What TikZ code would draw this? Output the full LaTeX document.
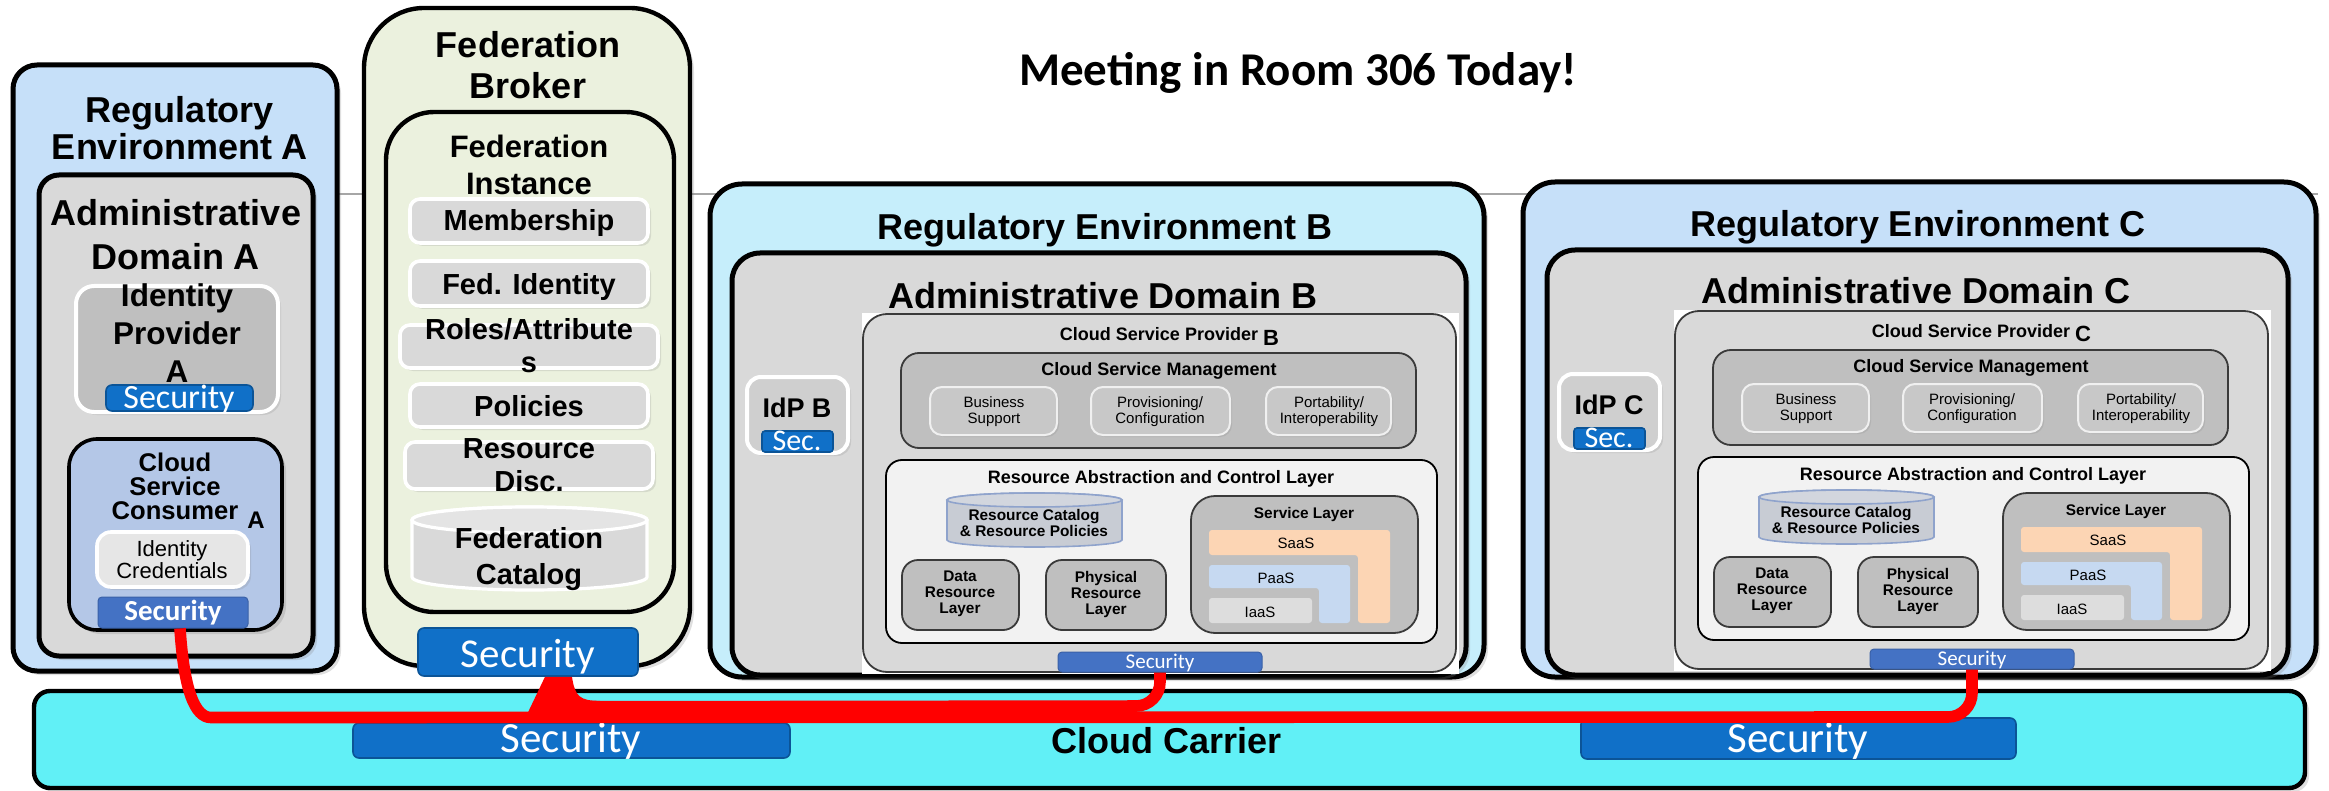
\documentclass[tikz,border=0pt]{standalone}
\usepackage{fontspec}
\setmainfont{Liberation Sans}
\newfontfamily\calfont{Carlito}
\usetikzlibrary{fit,shadows,calc}

\definecolor{regA}{HTML}{C6E0F9}
\definecolor{regB}{HTML}{C6EEFB}
\definecolor{regC}{HTML}{C6E0F9}
\definecolor{admin}{HTML}{D9D9D9}
\definecolor{idpgray}{HTML}{BFBFBF}
\definecolor{idpfill}{HTML}{CFCFCF}
\definecolor{secblue}{HTML}{1070C8}
\definecolor{secedge}{HTML}{0B5497}
\definecolor{seclight}{HTML}{4472C4}
\definecolor{consumer}{HTML}{B4C7E7}
\definecolor{credfill}{HTML}{E6E6E6}
\definecolor{broker}{HTML}{EBF1DE}
\definecolor{fedgray}{HTML}{D9D9D9}
\definecolor{fedtop}{HTML}{E4E4E4}
\definecolor{carrier}{HTML}{61F0F6}
\definecolor{cspgray}{HTML}{D9D9D9}
\definecolor{cspedge}{HTML}{3A3A3A}
\definecolor{mgmt}{HTML}{BFBFBF}
\definecolor{subfill}{HTML}{C8C8C8}
\definecolor{subedge}{HTML}{F0F0F0}
\definecolor{racl}{HTML}{F2F2F2}
\definecolor{catfill}{HTML}{C8CCD4}
\definecolor{cattop}{HTML}{D2D6DE}
\definecolor{catedge}{HTML}{8FA3CC}
\definecolor{layer}{HTML}{BFBFBF}
\definecolor{saas}{HTML}{FCD5B4}
\definecolor{paas}{HTML}{C6D9F1}
\definecolor{iaas}{HTML}{DDDDDD}
\definecolor{wire}{HTML}{FF0000}
\definecolor{rulegray}{HTML}{A6A6A6}

\newcommand\fs[2]{\fontsize{#1}{#2}\selectfont}

% multi-line labels are placed by the baseline of their last line
\tikzset{
  container/.style={draw=black, line width=2.5pt, inner sep=0pt,
    drop shadow={shadow xshift=2pt, shadow yshift=-2pt, opacity=0.25}},
  whitebox/.style={draw=white, line width=1.8pt, inner sep=0pt,
    drop shadow={shadow xshift=1.5pt, shadow yshift=-1.5pt, opacity=0.2}},
  fitem/.style={whitebox, fill=fedgray, rounded corners=5pt},
  secbig/.style={fill=secblue, draw=secedge, line width=0.8pt, rounded corners=3pt, inner sep=0pt},
  seclt/.style={fill=seclight, draw=seclight!85!black, line width=0.5pt, rounded corners=2pt, inner sep=0pt},
  txt/.style={inner sep=0pt, anchor=base, align=center},
  headfont/.style={font=\fs{18}{18.5}\bfseries},
  itemfont/.style={font=\fs{14.5}{16.5}\bfseries},
  smallbold/.style={font=\fs{9}{10}\bfseries},
  tinybold/.style={font=\fs{7.7}{8}\bfseries},
  tinyreg/.style={font=\fs{7.5}{8}},
  sectext/.style={text=white},
  panel/.style={draw=cspedge, line width=0.9pt, inner sep=0pt},
  subbox/.style={draw=subedge, line width=1pt, fill=subfill, rounded corners=6pt, inner sep=0pt,
    drop shadow={shadow xshift=1pt, shadow yshift=-1pt, opacity=0.2}},
  layerbox/.style={panel, fill=layer, rounded corners=8pt},
  wireline/.style={draw=wire, line width=5.8pt, rounded corners=12pt},
  ruleline/.style={draw=rulegray, line width=0.6pt},
}

% cylinder: name, x1, x2, y1, y2, cap half-height (px), body style, cap fill
\newcommand\drumshape[8]{%
  \pgfmathsetmacro\drumrx{(#3-#2)/4}%
  \pgfmathsetmacro\drumry{#6/2}%
  \pgfmathsetmacro\drumcx{(#2+#3)/2}%
  \pgfmathsetmacro\drumtop{#4+#6}%
  \pgfmathsetmacro\drumbot{#5-#6}%
  \path[#7] (#2,\drumtop) -- (#2,\drumbot)
    arc[start angle=180,end angle=360,x radius=\drumrx pt,y radius=\drumry pt]
    -- (#3,\drumtop)
    arc[start angle=0,end angle=180,x radius=\drumrx pt,y radius=\drumry pt] -- cycle;
  \path[#7, fill=#8] (\drumcx,\drumtop) ellipse[x radius=\drumrx pt,y radius=\drumry pt];
  \node[inner sep=0pt, fit={(#2,#4)(#3,#5)}] (#1) {};
}

% identity provider and cloud service provider of one domain
\newcommand\providerblock[2]{%
\begin{scope}[shift={#2}]
  \node[whitebox, fill=idpfill, line width=2pt, rounded corners=7pt, fit={(747,377)(848,453)}] (idp#1) {};
  \node[txt, font=\fs{13.5}{14}\bfseries] (idp#1t) at (797,417) {IdP #1};
  \node[secbig, rounded corners=1.5pt, fit={(762,431)(833,452)}] (secIdp#1) {};
  \node[txt, sectext, font=\calfont\fs{15}{16}] (secIdp#1t) at (797,450) {Sec.};
  \fill[white] (862,313) rectangle (1459,674);
  \node[panel, fill=cspgray, rounded corners=12pt, fit={(863,314)(1456,672)}] (csp#1) {};
  \node[txt, smallbold] (csp#1t) at (1159,340) {Cloud Service Provider};
  \node[txt, font=\fs{11}{12}\bfseries] (csp#1l) at (1271,345) {#1};
  \node[panel, fill=mgmt, rounded corners=9pt, fit={(901,353)(1416,448)}] (csm#1) {};
  \node[txt, smallbold] (csm#1t) at (1159,375) {Cloud Service Management};
  \node[subbox, fit={(930,387)(1057,435)}] (bs#1) {};
  \node[txt, tinyreg] (bs#1t) at (994,423) {Business\\Support};
  \node[subbox, fit={(1091,387)(1230,435)}] (pc#1) {};
  \node[txt, tinyreg] (pc#1t) at (1160,423) {Provisioning/\\Configuration};
  \node[subbox, fit={(1266,387)(1391,435)}] (pi#1) {};
  \node[txt, tinyreg] (pi#1t) at (1329,423) {Portability/\\Interoperability};
  \node[draw=black, line width=0.9pt, fill=racl, rounded corners=8pt, inner sep=0pt, fit={(886,460)(1437,643)}] (racl#1) {};
  \node[txt, smallbold] (racl#1t) at (1161,483) {Resource Abstraction and Control Layer};
  \drumshape{rcat#1}{947}{1122}{493}{547}{7}{fill=catfill, draw=catedge, line width=0.8pt}{cattop}
  \node[txt, font=\fs{7.7}{7.6}\bfseries] (rcat#1t) at (1034,536) {Resource Catalog\\\& Resource Policies};
  \node[layerbox, fit={(902,560)(1019,630)}] (drl#1) {};
  \node[txt, tinybold] (drl#1t) at (960,613) {Data\\Resource\\Layer};
  \node[layerbox, fit={(1046,560)(1166,630)}] (prl#1) {};
  \node[txt, tinybold] (prl#1t) at (1106,614) {Physical\\Resource\\Layer};
  \node[layerbox, rounded corners=12pt, fit={(1191,496)(1418,633)}] (svl#1) {};
  \node[txt, tinybold] (svl#1t) at (1304,518) {Service Layer};
  \fill[saas, rounded corners=1.5pt] (1209,530) -- (1390,530) -- (1390,623) -- (1358,623) -- (1358,555) -- (1209,555) -- cycle;
  \node[txt, tinyreg] (saas#1t) at (1296,548) {SaaS};
  \fill[paas, rounded corners=1.5pt] (1209,565) -- (1350,565) -- (1350,623) -- (1319,623) -- (1319,588) -- (1209,588) -- cycle;
  \node[txt, tinyreg] (paas#1t) at (1276,583) {PaaS};
  \node[fill=iaas, rounded corners=1.5pt, inner sep=0pt, fit={(1209,598)(1312,623)}] (iaas#1) {};
  \node[txt, tinyreg] (iaas#1t) at (1260,617) {IaaS};
  \node[seclt, fit={(1058,652)(1262,672)}] (sec#1) {};
  \node[txt, sectext, font=\calfont\fs{10.5}{12}] (sec#1t) at (1160,668) {Security};
\end{scope}}

\begin{document}
\begin{tikzpicture}[x=0.5pt, y=-0.5pt]
\useasboundingbox (0,0) rectangle (2329,791);

% faint horizontal rule behind the boxes
\coordinate (ruleL) at (337,194);
\coordinate (ruleR) at (2318,194);
\draw[ruleline] (ruleL) -- (ruleR);

\node[txt, font=\calfont\fs{23.5}{28}\bfseries] (title) at (1298,86) {Meeting in Room 306 Today!};

% cloud carrier
\node[container, fill=carrier, line width=2.2pt, rounded corners=8pt, fit={(34,691)(2305,788)}] (carrier) {};
\node[txt, headfont] (carriert) at (1167,753) {Cloud Carrier};
\node[secbig, fit={(353,723)(790,758)}] (secCarL) {};
\node[txt, sectext, font=\calfont\fs{21.5}{24}] (secCarLt) at (571,752) {Security};
\node[secbig, fit={(1581,718)(2016,759)}] (secCarR) {};
\node[txt, sectext, font=\calfont\fs{21.5}{24}] (secCarRt) at (1798,752) {Security};

% regulatory environment A
\node[container, fill=regA, rounded corners=12pt, fit={(13,65)(337,671)}] (regA) {};
\node[txt, headfont] (regAt) at (180,160) {Regulatory\\Environment A};
\node[container, fill=admin, rounded corners=10pt, fit={(39,175)(313,656)}] (admA) {};
\node[txt, font=\fs{18}{22}\bfseries] (admAt) at (176,270) {Administrative\\Domain A};
\node[whitebox, fill=idpgray, line width=2pt, rounded corners=9pt, fit={(76,286)(278,412)}] (idpA) {};
\node[txt, font=\fs{15.75}{19}\bfseries] (idpAt) at (177,382) {Identity\\Provider\\A};
\node[secbig, fit={(106,385)(253,411)}] (secIdpA) {};
\node[txt, sectext, font=\calfont\fs{17}{20}] (secIdpAt) at (179,408) {Security};
\node[container, fill=consumer, line width=1.8pt, rounded corners=14pt, fit={(69,439)(282,630)}] (cscA) {};
\node[txt, font=\fs{12.8}{11.8}\bfseries] (cscAt) at (175,519) {Cloud\\Service\\Consumer};
\node[txt, font=\fs{12}{12}\bfseries] (cscAl) at (256,528) {A};
\node[whitebox, fill=credfill, rounded corners=7pt, fit={(97,532)(248,587)}] (cred) {};
\node[txt, font=\fs{11}{11}] (credt) at (172,578) {Identity\\Credentials};
\node[seclt, fit={(98,597)(248,628)}] (secCSC) {};
\node[txt, sectext, font=\calfont\fs{14.5}{16}\bfseries] (secCSCt) at (173,620) {Security};

% federation broker
\node[container, fill=broker, line width=2.2pt, rounded corners=30pt, fit={(364,8)(690,666)}] (fb) {};
\node[txt, font=\fs{18}{20.5}\bfseries] (fbt) at (528,99) {Federation\\Broker};
\node[draw=black, line width=2.2pt, fill=broker, rounded corners=24pt, inner sep=0pt, fit={(386,112)(674,612)}] (fi) {};
\node[txt, font=\fs{15.5}{18.5}\bfseries] (fit) at (529,195) {Federation\\Instance};
\node[fitem, fit={(410,199)(648,243)}] (mem) {};
\node[txt, itemfont] (memt) at (529,231) {Membership};
\node[fitem, fit={(410,261)(648,306)}] (fid) {};
\node[txt, itemfont] (fidt) at (529,294) {Fed. Identity};
\node[fitem, fit={(400,325)(658,368)}] (roles) {};
\node[txt, itemfont] (rolest) at (529,372) {Roles/Attribute\\s};
\node[fitem, fit={(410,384)(648,427)}] (pol) {};
\node[txt, itemfont] (polt) at (529,416) {Policies};
\node[fitem, fit={(405,442)(653,489)}] (rdisc) {};
\node[txt, itemfont] (rdisct) at (529,491) {Resource\\Disc.};
\drumshape{fcat}{412}{647}{507}{590}{13}{fill=fedgray, draw=white, line width=1.6pt}{fedtop}
\node[txt, font=\fs{14.5}{18}\bfseries] (fcatt) at (529,584) {Federation\\Catalog};
\node[secbig, fit={(418,628)(638,676)}] (secFB) {};
\node[txt, sectext, font=\calfont\fs{20.5}{24}] (secFBt) at (528,667) {Security};

% regulatory environment B
\node[container, fill=regB, rounded corners=16pt, fit={(710,184)(1484,677)}] (regB) {};
\node[txt, headfont] (regBt) at (1105,240) {Regulatory Environment B};
\node[container, fill=admin, rounded corners=14pt, fit={(732,253)(1466,675)}] (admB) {};
\node[txt, headfont] (admBt) at (1103,308) {Administrative Domain B};
\providerblock{B}{(0,0)}

% regulatory environment C
\node[container, fill=regC, rounded corners=16pt, fit={(1523,182)(2316,677)}] (regC) {};
\node[txt, headfont] (regCt) at (1918,237) {Regulatory Environment C};
\node[container, fill=admin, rounded corners=14pt, fit={(1547,250)(2288,675)}] (admC) {};
\node[txt, headfont] (admCt) at (1916,304) {Administrative Domain C};
\providerblock{C}{(812,-3)}

% secure links between the security components
\coordinate (busLow) at (0,717);
\coordinate (busHigh) at (0,706);
\draw[wireline] ($(secCSC.south)+(7,0)$)
  .. controls ($(secCSC.south)+(11,62)$) and ($(secCSC.south)+(22,89)$) .. ($(secCSC.south)+(62,89)$)
  -- (secC.south |- busLow) -- (secC.south);
\fill[wire] ($(secFB.south)+(17,0)$) -- ($(secFB.south)+(44,0)$)
  .. controls ($(secFB.south)+(47,20)$) and ($(secFB.south)+(52,24)$) .. ($(secFB.south)+(72,24)$)
  -- ($(secFB.south)+(72,46)$) -- ($(secFB.south)+(-5,46)$) -- cycle;
\draw[wireline] ($(secFB.south)+(60,30)$) -- (secB.south |- busHigh) -- (secB.south);
\end{tikzpicture}
\end{document}
